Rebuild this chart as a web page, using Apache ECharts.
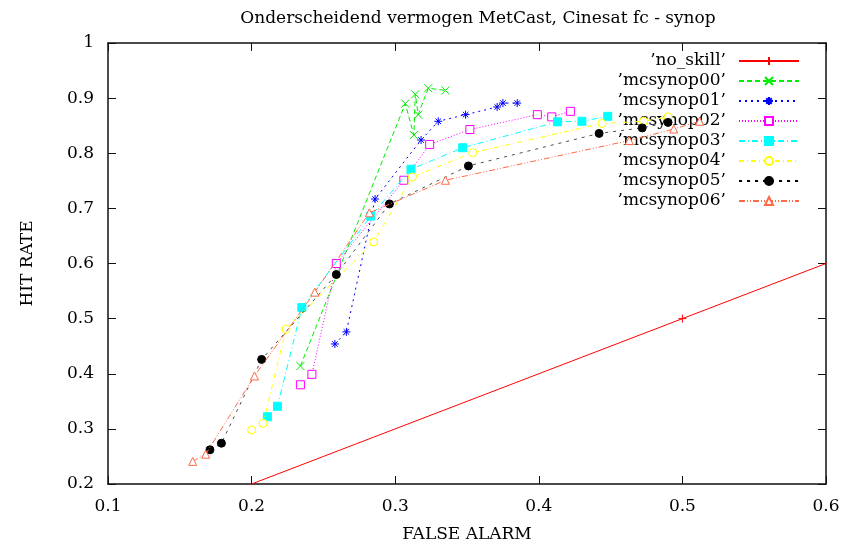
<!DOCTYPE html>
<html>
<head>
<meta charset="utf-8">
<script src="https://cdn.jsdelivr.net/npm/echarts@6/dist/echarts.min.js"></script>
<style>html,body{margin:0;padding:0;background:#fff}#c{width:844px;height:548px}</style>
</head>
<body>
<div id="c"></div>
<script>
// ---- data (false alarm rate, hit rate) ----
const noSkillFA = [0, 0.5, 1];
const noSkillHR = [0, 0.5, 1];
const mc00FA = [0.234, 0.307, 0.313, 0.314, 0.316, 0.323, 0.335];
const mc00HR = [0.414, 0.890, 0.833, 0.907, 0.870, 0.918, 0.914];
const mc01FA = [0.258, 0.266, 0.286, 0.318, 0.330, 0.349, 0.371, 0.375, 0.385];
const mc01HR = [0.454, 0.476, 0.717, 0.824, 0.858, 0.870, 0.884, 0.891, 0.891];
const mc02FA = [0.234, 0.242, 0.259, 0.306, 0.324, 0.352, 0.399, 0.409, 0.422];
const mc02HR = [0.380, 0.399, 0.600, 0.751, 0.816, 0.843, 0.870, 0.866, 0.876];
const mc03FA = [0.211, 0.218, 0.235, 0.283, 0.311, 0.347, 0.413, 0.430, 0.448];
const mc03HR = [0.322, 0.341, 0.520, 0.686, 0.771, 0.810, 0.857, 0.858, 0.867];
const mc04FA = [0.200, 0.208, 0.224, 0.285, 0.312, 0.354, 0.444, 0.473, 0.490];
const mc04HR = [0.298, 0.310, 0.481, 0.639, 0.757, 0.801, 0.854, 0.858, 0.866];
const mc05FA = [0.171, 0.179, 0.207, 0.259, 0.296, 0.351, 0.442, 0.472, 0.490];
const mc05HR = [0.262, 0.274, 0.426, 0.580, 0.708, 0.777, 0.836, 0.846, 0.856];
const mc06FA = [0.159, 0.168, 0.202, 0.244, 0.282, 0.335, 0.463, 0.494, 0.512];
const mc06HR = [0.241, 0.254, 0.396, 0.548, 0.692, 0.751, 0.823, 0.844, 0.858];
const seriesNames = ["\u2019no_skill\u2019", "\u2019mcsynop00\u2019", "\u2019mcsynop01\u2019", "\u2019mcsynop02\u2019",
  "\u2019mcsynop03\u2019", "\u2019mcsynop04\u2019", "\u2019mcsynop05\u2019", "\u2019mcsynop06\u2019"];
const xTicks = [0.1, 0.2, 0.3, 0.4, 0.5, 0.6];
const yTicks = [0.2, 0.3, 0.4, 0.5, 0.6, 0.7, 0.8, 0.9, 1];
const titleText = "Onderscheidend vermogen MetCast, Cinesat fc - synop";
const xName = "FALSE ALARM";
const yName = "HIT RATE";

const FONT = "DejaVu Serif";
const pair = (a, b) => a.map((v, i) => [v, b[i]]);
const PLUS = 'path://M0,5L10,5M5,0L5,10';
const CROSS = 'path://M1,1L9,9M1,9L9,1';
const STAR = 'path://M0,5L10,5M5,0L5,10M1.5,1.5L8.5,8.5M1.5,8.5L8.5,1.5';

const styles = [
  {c: '#ff0000', dash: 'solid', sym: PLUS, fill: 'none'},
  {c: '#00ee00', dash: [5, 3], sym: CROSS, fill: 'none'},
  {c: '#0000ff', dash: [2, 4], sym: STAR, fill: 'none'},
  {c: '#ff00ff', dash: [1, 2], sym: 'rect', fill: '#ffffff'},
  {c: '#00ffff', dash: [6, 3, 1, 3], sym: 'rect', fill: '#00ffff'},
  {c: '#ffff00', dash: [5, 3, 1, 3], sym: 'circle', fill: '#ffffff'},
  {c: '#000000', dash: [3, 5], sym: 'circle', fill: '#000000'},
  {c: '#ff6a48', dash: [6, 2, 1, 2, 1, 2], sym: 'triangle', fill: '#ffffff'}
];
const lineWidths = [1, 1, 1, 1, 1, 1, 0.7, 1];
const dataSets = [
  pair(noSkillFA, noSkillHR), pair(mc00FA, mc00HR), pair(mc01FA, mc01HR), pair(mc02FA, mc02HR),
  pair(mc03FA, mc03HR), pair(mc04FA, mc04HR), pair(mc05FA, mc05HR), pair(mc06FA, mc06HR)
];

const fmt = v => String(Math.round(v * 10) / 10);
const axisCommon = {
  type: 'value', interval: 0.1, splitLine: {show: false},
  axisLine: {show: true, lineStyle: {color: '#111', width: 1.5}},
  axisTick: {show: true, inside: true, length: 8, lineStyle: {color: '#111', width: 1}}
};

const series = dataSets.map((d, i) => ({
  name: seriesNames[i], type: 'line', data: d, clip: true,
  symbol: styles[i].sym, symbolSize: 8, showAllSymbol: true,
  lineStyle: {color: styles[i].c, width: lineWidths[i], type: styles[i].dash},
  itemStyle: {color: styles[i].fill, borderColor: styles[i].c, borderWidth: 1},
  emphasis: {disabled: true}, animation: false, z: 2 + i
}));

const legends = seriesNames.map((n, i) => ({
  data: [n], right: 44, top: 51 + i * 20, orient: 'horizontal', align: 'right',
  itemWidth: 60, itemHeight: 10, padding: 0, selectedMode: false,
  textStyle: {fontFamily: FONT, fontSize: 17, color: '#000', lineHeight: 20, padding: [0, 8, 0, 0]}
}));

const chart = echarts.init(document.getElementById('c'), null, {renderer: 'canvas'});
chart.setOption({
  backgroundColor: '#fff',
  animation: false,
  title: {text: titleText, left: 473, textAlign: 'center', top: 5,
    textStyle: {fontFamily: FONT, fontSize: 17, fontWeight: 'normal', color: '#000'}},
  legend: legends,
  grid: {left: 108, right: 18, top: 43, bottom: 63},
  xAxis: [
    Object.assign({}, axisCommon, {min: xTicks[0], max: xTicks[xTicks.length - 1], position: 'bottom',
      name: xName, nameLocation: 'middle', nameGap: 42,
      nameTextStyle: {fontFamily: FONT, fontSize: 17, color: '#000'},
      axisLabel: {formatter: fmt, margin: 14, fontFamily: FONT, fontSize: 17, color: '#000'}}),
    Object.assign({}, axisCommon, {min: xTicks[0], max: xTicks[xTicks.length - 1], position: 'top',
      axisLabel: {show: false}})
  ],
  yAxis: [
    Object.assign({}, axisCommon, {min: yTicks[0], max: yTicks[yTicks.length - 1], position: 'left',
      name: yName, nameLocation: 'middle', nameGap: 72,
      nameTextStyle: {fontFamily: FONT, fontSize: 17, color: '#000'},
      axisLabel: {formatter: fmt, margin: 14, fontFamily: FONT, fontSize: 17, color: '#000'}}),
    Object.assign({}, axisCommon, {min: yTicks[0], max: yTicks[yTicks.length - 1], position: 'right',
      axisLabel: {show: false}})
  ],
  series: series
});
</script>
</body>
</html>
